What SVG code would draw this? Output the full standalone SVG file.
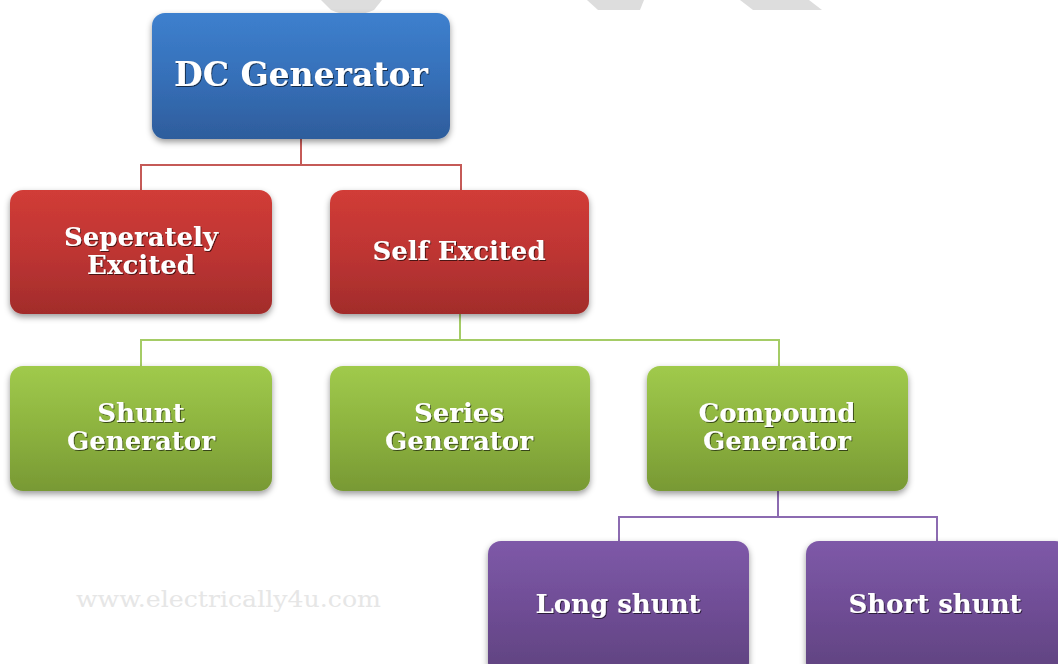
<svg xmlns="http://www.w3.org/2000/svg" width="1058" height="664" viewBox="0 0 1058 664">
<defs>
<linearGradient id="gBlue" x1="0" y1="0" x2="0" y2="1"><stop offset="0" stop-color="#3d80ce"/><stop offset="0.5" stop-color="#3670b9"/><stop offset="1" stop-color="#2e5d9c"/></linearGradient>
<linearGradient id="gRed" x1="0" y1="0" x2="0" y2="1"><stop offset="0" stop-color="#d13c37"/><stop offset="0.5" stop-color="#be3533"/><stop offset="1" stop-color="#a22c2b"/></linearGradient>
<linearGradient id="gGreen" x1="0" y1="0" x2="0" y2="1"><stop offset="0" stop-color="#a0ca4c"/><stop offset="0.5" stop-color="#8db33f"/><stop offset="1" stop-color="#789934"/></linearGradient>
<linearGradient id="gPurple" x1="0" y1="0" x2="0" y2="1"><stop offset="0" stop-color="#7e59a8"/><stop offset="0.5" stop-color="#6f4d95"/><stop offset="1" stop-color="#5f427f"/></linearGradient>
<filter id="shadow" x="-10%" y="-10%" width="120%" height="130%"><feDropShadow dx="0" dy="3" stdDeviation="3" flood-color="#000" flood-opacity="0.4"/></filter>
<filter id="tshadow" x="-5%" y="-20%" width="110%" height="140%"><feDropShadow dx="1" dy="1" stdDeviation="0.6" flood-color="#000" flood-opacity="0.6"/></filter>
</defs>
<style>
.lbl{font-family:"DejaVu Serif","Liberation Serif",serif;font-weight:bold;fill:#ffffff;text-anchor:middle;font-size:26px;filter:url(#tshadow)}
.big{font-size:33px}
.conn{fill:none;stroke-width:2}
.wm{font-family:"DejaVu Serif","Liberation Serif",serif;fill:#e6e6e6;font-size:22px}
</style>
<rect width="1058" height="664" fill="#ffffff"/>
<g id="background">
<path d="M321,0 L382,0 L374,10 Q352,20 331,10 Z" fill="#dddddd"/>
<path d="M587,0 L644,0 L640,10 L598,10 Z" fill="#dddddd"/>
<path d="M740,0 L809,0 L822,10 L753,10 Z" fill="#dddddd"/>
<text class="wm" x="76" y="607" textLength="305" lengthAdjust="spacingAndGlyphs">www.electrically4u.com</text>
</g>
<g id="connectors">
<path class="conn" stroke="#c55a57" d="M301,139 V165 M141,190 V165 H461 V190"/>
<path class="conn" stroke="#a5cc66" d="M460,314 V340 M141,366 V340 H779 V366"/>
<path class="conn" stroke="#8c6bb1" d="M778,491 V517 M619,541 V517 H937 V541"/>
</g>
<g id="dc-generator">
<rect x="152" y="13" width="298" height="126" rx="13" fill="url(#gBlue)" filter="url(#shadow)"/>
<text class="lbl big" x="301" y="86">DC Generator</text>
</g>
<g id="seperately-excited">
<rect x="10" y="190" width="262" height="124" rx="13" fill="url(#gRed)" filter="url(#shadow)"/>
<text class="lbl" x="141" y="246">Seperately</text>
<text class="lbl" x="141" y="274">Excited</text>
</g>
<g id="self-excited">
<rect x="330" y="190" width="259" height="124" rx="13" fill="url(#gRed)" filter="url(#shadow)"/>
<text class="lbl" x="459" y="260">Self Excited</text>
</g>
<g id="shunt-generator">
<rect x="10" y="366" width="262" height="125" rx="13" fill="url(#gGreen)" filter="url(#shadow)"/>
<text class="lbl" x="141" y="422">Shunt</text>
<text class="lbl" x="141" y="450">Generator</text>
</g>
<g id="series-generator">
<rect x="330" y="366" width="260" height="125" rx="13" fill="url(#gGreen)" filter="url(#shadow)"/>
<text class="lbl" x="459" y="422">Series</text>
<text class="lbl" x="459" y="450">Generator</text>
</g>
<g id="compound-generator">
<rect x="647" y="366" width="261" height="125" rx="13" fill="url(#gGreen)" filter="url(#shadow)"/>
<text class="lbl" x="777" y="422">Compound</text>
<text class="lbl" x="777" y="450">Generator</text>
</g>
<g id="long-shunt">
<rect x="488" y="541" width="261" height="135" rx="13" fill="url(#gPurple)" filter="url(#shadow)"/>
<text class="lbl" x="618" y="613">Long shunt</text>
</g>
<g id="short-shunt">
<rect x="806" y="541" width="262" height="135" rx="13" fill="url(#gPurple)" filter="url(#shadow)"/>
<text class="lbl" x="935" y="613">Short shunt</text>
</g>
</svg>
